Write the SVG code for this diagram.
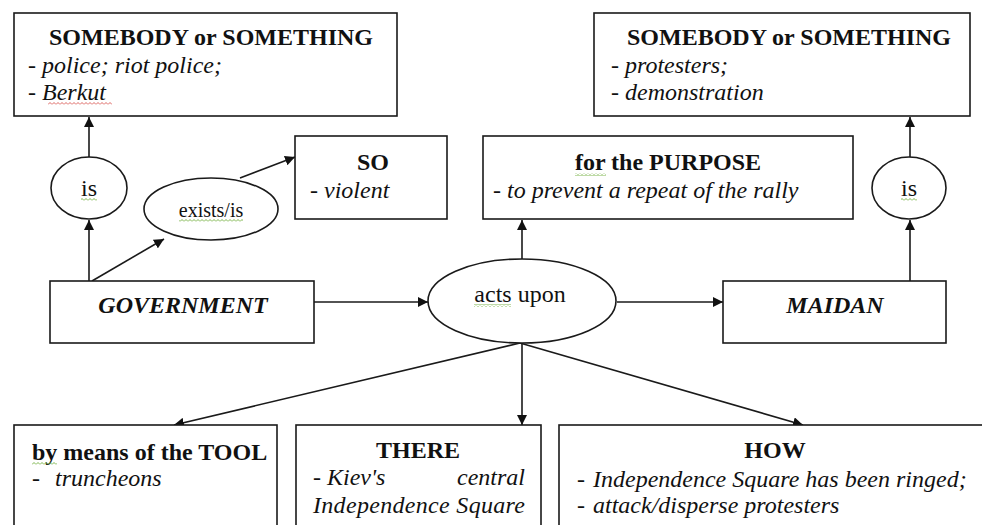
<svg xmlns="http://www.w3.org/2000/svg" width="982" height="525" viewBox="0 0 982 525">
<style>
.box{fill:#fff;stroke:#1a1a1a;stroke-width:1.6}
.ell{fill:#fff;stroke:#1a1a1a;stroke-width:1.6}
.ln{fill:none;stroke:#1a1a1a;stroke-width:1.6;marker-end:url(#ah)}
.tx{font-family:'Liberation Serif','Times New Roman',serif;fill:#111;font-size:24px}
.t{font-weight:bold}
.c{text-anchor:middle}
.i{font-style:italic}
.bi{font-weight:bold;font-style:italic}
</style>
<defs>
<marker id="ah" viewBox="0 0 10 10" refX="10" refY="5" markerWidth="10" markerHeight="10" markerUnits="userSpaceOnUse" orient="auto">
<path d="M0,0 L10,5 L0,10 z" fill="#111"/>
</marker>
<pattern id="sqg" patternUnits="userSpaceOnUse" width="4" height="3">
<path d="M0,2.5 L2,0.5 L4,2.5" fill="none" stroke="#6fae3a" stroke-width="0.9"/>
</pattern>
<pattern id="sqr" patternUnits="userSpaceOnUse" width="4" height="3">
<path d="M0,2.5 L2,0.5 L4,2.5" fill="none" stroke="#d9534f" stroke-width="0.9"/>
</pattern>
</defs>
<rect width="982" height="525" fill="#fff"/>

<g id="connectors">
<line class="ln" x1="89" y1="157" x2="89" y2="117"/>
<line class="ln" x1="89" y1="281" x2="89" y2="220"/>
<line class="ln" x1="92" y1="281" x2="164" y2="239"/>
<line class="ln" x1="240" y1="178" x2="295" y2="157"/>
<line class="ln" x1="314" y1="302" x2="428" y2="302"/>
<line class="ln" x1="617" y1="302" x2="723" y2="302"/>
<line class="ln" x1="522" y1="259" x2="522" y2="220"/>
<line class="ln" x1="910" y1="281" x2="910" y2="220"/>
<line class="ln" x1="910" y1="157" x2="910" y2="117"/>
<line class="ln" x1="520" y1="343" x2="174" y2="425"/>
<line class="ln" x1="522" y1="343" x2="522" y2="425"/>
<line class="ln" x1="520" y1="343" x2="803" y2="425"/>
</g>

<g id="somebody-left">
<rect class="box" x="14" y="13" width="383" height="103"/>
<text class="tx t c" x="211" y="45">SOMEBODY or SOMETHING</text>
<text class="tx i" x="28" y="73">- police; riot police;</text>
<text class="tx i" x="28" y="100">- Berkut</text>
<rect x="48" y="102" width="64" height="3" fill="url(#sqr)"/>
</g>

<g id="somebody-right">
<rect class="box" x="594" y="13" width="376" height="103"/>
<text class="tx t c" x="789" y="45">SOMEBODY or SOMETHING</text>
<text class="tx i" x="611" y="73">- protesters;</text>
<text class="tx i" x="611" y="100">- demonstration</text>
</g>

<g id="is-left">
<ellipse class="ell" cx="89" cy="188" rx="38" ry="31"/>
<text class="tx c" x="89" y="196">is</text>
<rect x="81" y="198" width="16" height="3" fill="url(#sqg)"/>
</g>

<g id="exists-is">
<ellipse class="ell" cx="211" cy="209" rx="67" ry="31"/>
<text class="tx c" x="211" y="217" style="font-size:20px">exists/is</text>
<rect x="179" y="219" width="64" height="3" fill="url(#sqg)"/>
</g>

<g id="so">
<rect class="box" x="295" y="136" width="152" height="83"/>
<text class="tx t c" x="373" y="170">SO</text>
<text class="tx i" x="310" y="198">- violent</text>
</g>

<g id="purpose">
<rect class="box" x="483" y="136" width="370" height="83"/>
<text class="tx t c" x="668" y="170">for the PURPOSE</text>
<text class="tx i" x="493" y="198">-  to prevent a repeat of the rally</text>
<rect x="575" y="173" width="31" height="3" fill="url(#sqg)"/>
</g>

<g id="is-right">
<ellipse class="ell" cx="909" cy="188" rx="37" ry="31"/>
<text class="tx c" x="909" y="196">is</text>
<rect x="901" y="198" width="16" height="3" fill="url(#sqg)"/>
</g>

<g id="government">
<rect class="box" x="50" y="281" width="264" height="62"/>
<text class="tx bi c" x="183" y="313">GOVERNMENT</text>
</g>

<g id="acts-upon">
<ellipse class="ell" cx="522" cy="301" rx="94" ry="42"/>
<text class="tx c" x="520" y="302">acts upon</text>
<rect x="474" y="304" width="37" height="3" fill="url(#sqg)"/>
</g>

<g id="maidan">
<rect class="box" x="723" y="281" width="223" height="62"/>
<text class="tx bi c" x="835" y="313">MAIDAN</text>
</g>

<g id="tool">
<rect class="box" x="14" y="425" width="263" height="120"/>
<text class="tx t" x="32" y="460">by means of the TOOL</text>
<rect x="32" y="462" width="25" height="3" fill="url(#sqg)"/>
<text class="tx i" x="32" y="486">-</text>
<text class="tx i" x="55" y="486">truncheons</text>
</g>

<g id="there">
<rect class="box" x="296" y="425" width="245" height="120"/>
<text class="tx t c" x="418" y="458">THERE</text>
<text class="tx i" x="313" y="485">- Kiev's</text>
<text class="tx i" x="525" y="485" text-anchor="end">central</text>
<text class="tx i" x="313" y="513" textLength="212" lengthAdjust="spacing">Independence Square</text>
</g>

<g id="how">
<rect class="box" x="559" y="425" width="440" height="120"/>
<text class="tx t c" x="775" y="458">HOW</text>
<text class="tx i" x="577" y="487">-</text>
<text class="tx i" x="593" y="487">Independence Square has been ringed;</text>
<text class="tx i" x="577" y="513">-</text>
<text class="tx i" x="593" y="513">attack/disperse protesters</text>
</g>
</svg>
